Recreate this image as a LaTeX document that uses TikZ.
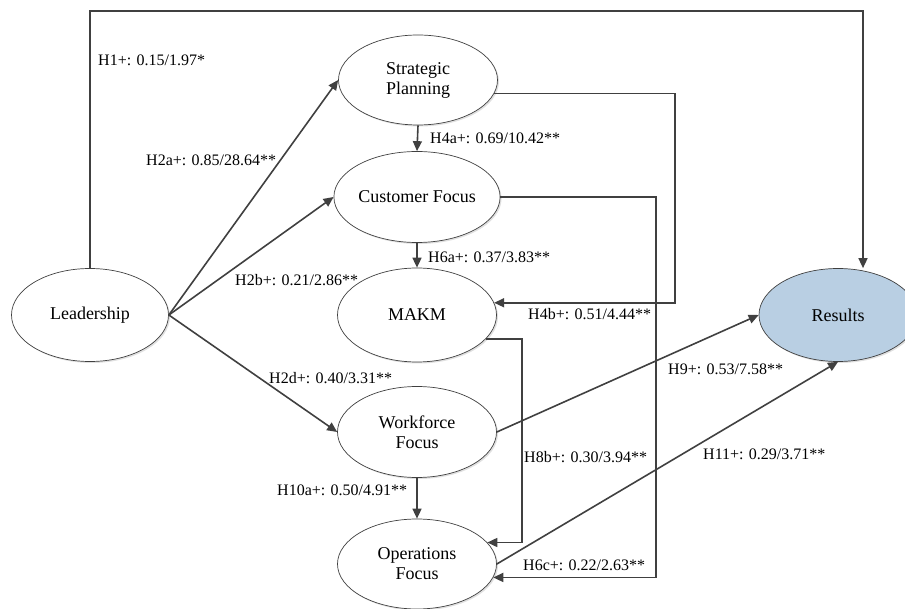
\documentclass[tikz,border=0pt]{standalone}
\usepackage{fontspec}
\setmainfont{Liberation Serif}
\usetikzlibrary{shapes.geometric,arrows.meta,shadows}
\definecolor{linegray}{HTML}{404040}
\definecolor{resblue}{HTML}{B9CFE3}
\tikzset{
  construct/.style={ellipse, draw=linegray, line width=0.7pt, fill=white, minimum width=159pt, minimum height=91pt, inner sep=0pt, align=center, font=\fontsize{18}{20}\selectfont,
    drop shadow={shadow xshift=1.5pt, shadow yshift=-1.5pt, fill=black!30, opacity=0.4}},
  path/.style={draw=linegray, line width=1.6pt, -{Triangle[length=10pt,width=9pt]}},
  lbl/.style={anchor=base west, inner sep=0pt, font=\fontsize{16}{18}\selectfont, text=black}
}
\begin{document}
\begin{tikzpicture}[x=1pt,y=-1pt]
\useasboundingbox (0,0) rectangle (905,609);
\node[construct, minimum width=157pt, minimum height=93pt] (lead) at (90,315) {Leadership};
\node[construct, minimum height=90pt] (sp) at (418,80) {Strategic\\Planning};
\node[construct] (cf) at (417,197) {Customer Focus};
\node[construct, minimum height=94pt] (makm) at (417,315) {MAKM};
\node[construct] (wf) at (417,432) {Workforce\\Focus};
\node[construct, minimum height=90pt] (of) at (417,564) {Operations\\Focus};
\node[construct, fill=resblue, minimum width=158pt, minimum height=93pt] (res) at (838,315) {Results};

\coordinate (top) at (863,11);
\coordinate (k1) at (675,0);
\coordinate (k2) at (656,0);
\coordinate (k3) at (522,0);

\draw[path] (lead.north) |- (top) -- (top |- res.north);
\draw[path] (lead.east) -- (sp.west);
\draw[path] (lead.east) -- (cf.west);
\draw[path] (lead.east) -- (wf.west);
\draw[path] (sp.south) -- (cf.north);
\draw[path] (cf.south) -- (makm.north);
\draw[path] (wf.south) -- (of.north);
\draw[path] (sp.-10) -| (k1 |- makm.9) -- (makm.9);
\draw[path] (cf.east) -| (k2 |- of.-10.5) -- (of.-10.5);
\draw[path] (makm.-19) -| (k3 |- of.17.6) -- (of.17.6);
\draw[path] (wf.east) -- (res.west);
\draw[path] (of.east) -- (res.south);

\node[lbl] (l1) at (98,65.5) {H1+: 0.15/1.97*};
\node[lbl] (l2a) at (146,165.5) {H2a+: 0.85/28.64**};
\node[lbl] (l4a) at (430,143.5) {H4a+: 0.69/10.42**};
\node[lbl] (l2b) at (235,285.5) {H2b+: 0.21/2.86**};
\node[lbl] (l6a) at (428,262.5) {H6a+: 0.37/3.83**};
\node[lbl] (l4b) at (528,319.5) {H4b+: 0.51/4.44**};
\node[lbl] (l2d) at (269,383.5) {H2d+: 0.40/3.31**};
\node[lbl] (l9) at (668,374.5) {H9+: 0.53/7.58**};
\node[lbl] (l8b) at (524,462.5) {H8b+: 0.30/3.94**};
\node[lbl] (l11) at (703,459.5) {H11+: 0.29/3.71**};
\node[lbl] (l10a) at (277,495.5) {H10a+: 0.50/4.91**};
\node[lbl] (l6c) at (523,570.5) {H6c+: 0.22/2.63**};
\end{tikzpicture}
\end{document}
